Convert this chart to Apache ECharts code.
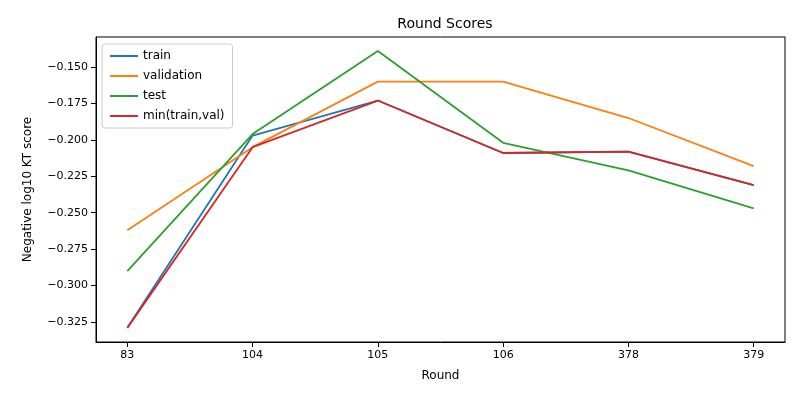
<!DOCTYPE html><html><head><meta charset="utf-8"><script src="https://cdn.jsdelivr.net/npm/echarts@6/dist/echarts.min.js"></script></head><body style="margin:0"><div id="c" style="width:800px;height:400px"></div><script>
const categories=['83','104','105','106','378','379'];
const train=[-0.329,-0.197,-0.173,-0.209,-0.208,-0.231];
const validation=[-0.262,-0.205,-0.160,-0.160,-0.185,-0.218];
const test=[-0.290,-0.196,-0.139,-0.202,-0.221,-0.247];
const minTV=[-0.329,-0.205,-0.173,-0.209,-0.208,-0.231];
const yTicks=[-0.325,-0.3,-0.275,-0.25,-0.225,-0.2,-0.175,-0.15];
const names=['train','validation','test','min(train,val)'];
const colors=['#1f77b4','#ff7f0e','#2ca02c','#d62728'];
const ser=[train,validation,test,minTV].map((a,i)=>({name:names[i],type:'line',showSymbol:false,symbol:'none',lineStyle:{width:1.8,color:colors[i]},itemStyle:{color:colors[i]},data:a.map((v,j)=>[j,v])}));
const font='DejaVu Sans';
echarts.init(document.getElementById('c')).setOption({animation:false,textStyle:{fontFamily:font},
title:{text:'Round Scores',left:440,top:12,textAlign:'center',textStyle:{fontSize:14,fontWeight:'normal',color:'#000',fontFamily:font}},
legend:{orient:'vertical',left:102,top:44,padding:[6,8],itemGap:8,icon:'rect',itemWidth:28,itemHeight:2,borderColor:'#ccc',borderWidth:1,borderRadius:3,textStyle:{fontSize:12,color:'#000',fontFamily:font},data:names},
grid:{left:96,right:15,top:37,bottom:58,show:true,borderColor:'#000',borderWidth:1},
xAxis:{type:'value',min:-0.25,max:5.25,name:'Round',nameLocation:'middle',nameGap:28,nameTextStyle:{fontSize:12,color:'#000'},axisLine:{onZero:false,lineStyle:{color:'#000'}},axisTick:{customValues:[0,1,2,3,4,5],lineStyle:{color:'#000'}},axisLabel:{customValues:[0,1,2,3,4,5],formatter:v=>categories[Math.round(v)],color:'#000',fontSize:11},splitLine:{show:false}},
yAxis:{type:'value',min:-0.3387,max:-0.1294,name:'Negative log10 KT score',nameLocation:'middle',nameGap:62,nameTextStyle:{fontSize:12,color:'#000'},axisLine:{show:true,onZero:false,lineStyle:{color:'#000'}},axisTick:{show:true,customValues:yTicks,lineStyle:{color:'#000'}},axisLabel:{customValues:yTicks,formatter:v=>v.toFixed(3).replace('-','−'),color:'#000',fontSize:11},splitLine:{show:false}},
series:ser});
</script></body></html>
